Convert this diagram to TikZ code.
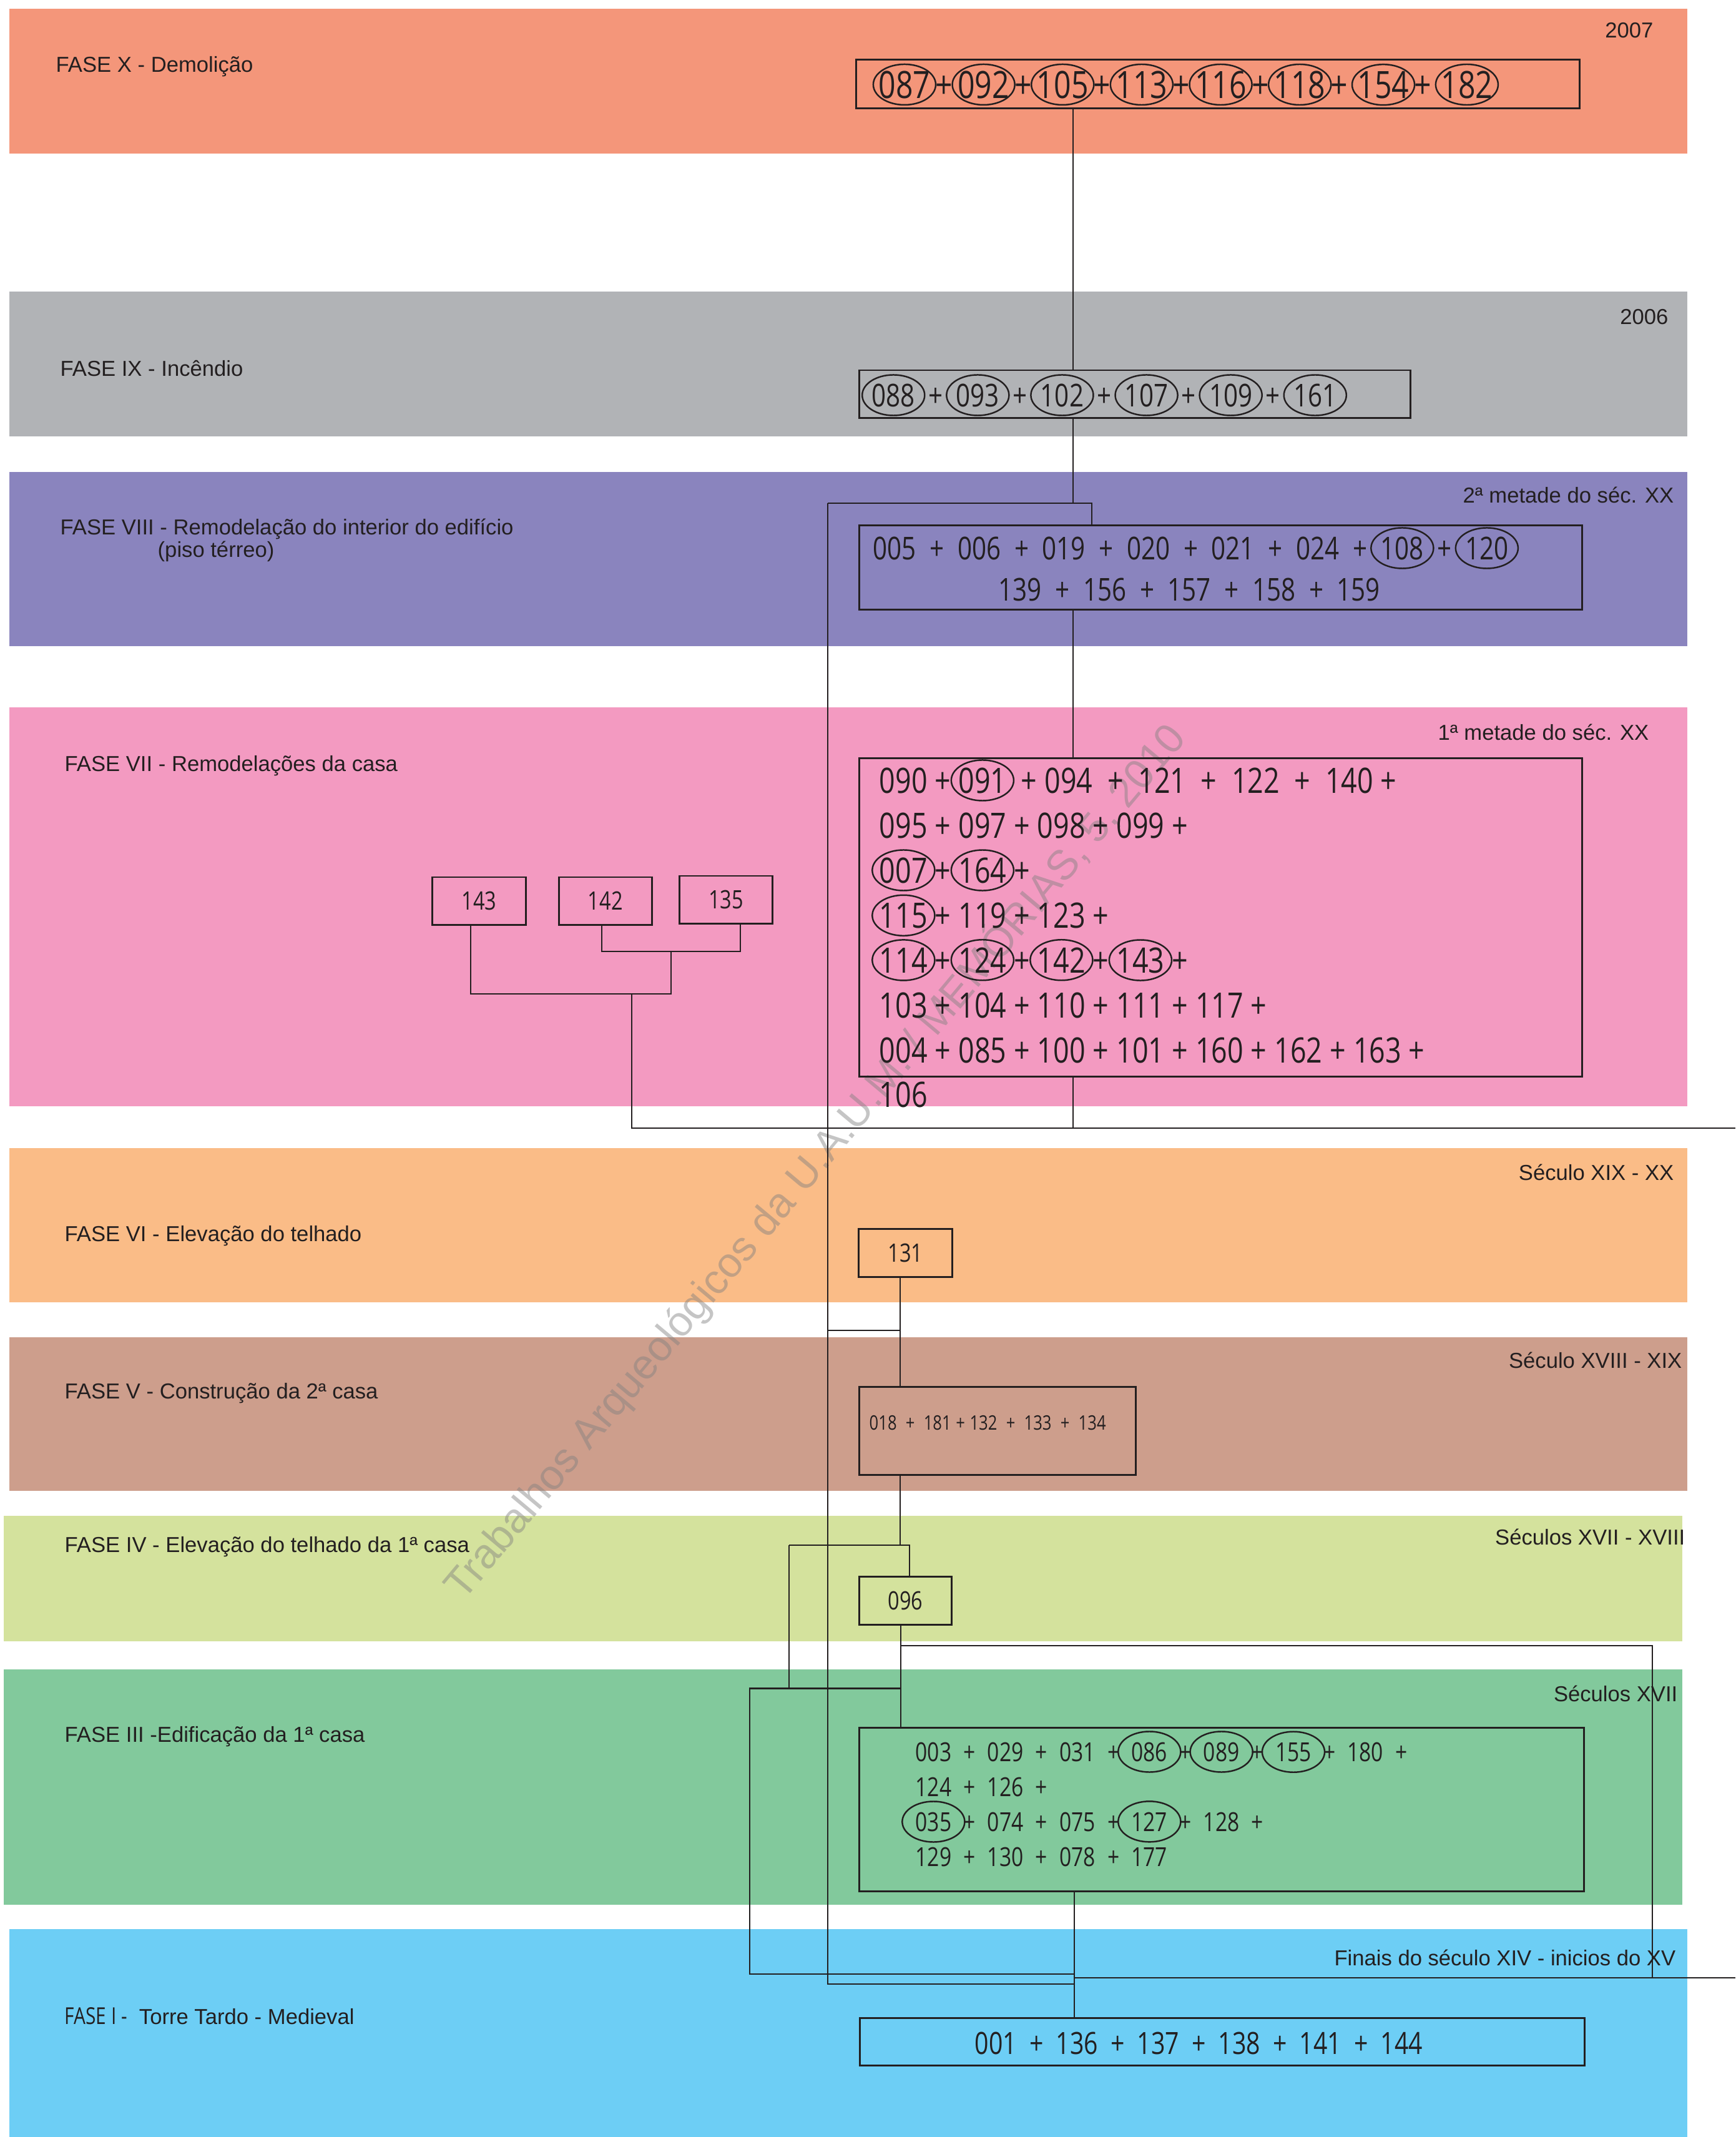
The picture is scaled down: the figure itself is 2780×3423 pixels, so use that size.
\documentclass[tikz,border=0pt]{standalone}
\usepackage{fontspec}
\setmainfont{Liberation Sans}
\newfontfamily\numf[FakeStretch=0.8]{Open Sans}
\usetikzlibrary{calc}
\definecolor{cX}{RGB}{244,150,122}
\definecolor{cIX}{RGB}{177,179,182}
\definecolor{cVIII}{RGB}{138,132,190}
\definecolor{cVII}{RGB}{243,154,193}
\definecolor{cVI}{RGB}{250,188,135}
\definecolor{cV}{RGB}{205,158,140}
\definecolor{cIV}{RGB}{212,226,157}
\definecolor{cIII}{RGB}{130,201,156}
\definecolor{cI}{RGB}{109,206,245}
\definecolor{ink}{RGB}{35,31,32}
\newcommand\plB{\ +\ \mbox{}}
\newcommand\plL{\ +}
\newcommand\plR{+\ \mbox{}}
\newcommand\plRx{+\kern0.12em}
\newcommand\numrow[4]{%
  \node[inner sep=0pt, anchor=base west] (#1-0) at (#2) {};
  \foreach \t/\c [count=\i, remember=\i as \j (initially 0)] in {#4} {%
    \node[#3, anchor=base west] (#1-\i) at (#1-\j.base east) {\t};
    \ifnum\c=1 \draw[circ] (#1-\i.center) ellipse [x radius=0.5cm, y radius=0.325cm];\fi
  }%
}
\tikzset{
  box/.style={draw=ink, line width=0.85pt, inner sep=0pt, rectangle},
  sbox/.style={box, text=ink, font=\numf\fontsize{11.55}{13}\selectfont},
  ln/.style={draw=ink, line width=0.7pt},
  circ/.style={draw=ink, line width=0.7pt},
  lbl/.style={inner sep=0pt, text=ink, font=\fontsize{9.85}{11}\selectfont},
  wm/.style={inner sep=0pt, text=black!50, text opacity=0.45, font=\fontsize{19.06}{22}\selectfont},
  tkX/.style={inner ysep=0pt, inner xsep=0.034cm, text=ink, font=\numf\fontsize{17.13}{20}\selectfont},
  tkIX/.style={inner ysep=0pt, inner xsep=0.100cm, text=ink, font=\numf\fontsize{14.34}{17}\selectfont},
  tkVIII/.style={inner ysep=0pt, inner xsep=0.101cm, text=ink, font=\numf\fontsize{14.34}{17}\selectfont},
  tkVII/.style={inner ysep=0pt, inner xsep=0.053cm, text=ink, font=\numf\fontsize{15.93}{18}\selectfont},
  tkV/.style={inner ysep=0pt, inner xsep=0.031cm, text=ink, font=\numf\fontsize{9.1}{11}\selectfont},
  tkIII/.style={inner ysep=0pt, inner xsep=0.089cm, text=ink, font=\numf\fontsize{11.95}{14}\selectfont},
  tkI/.style={inner ysep=0pt, inner xsep=0.0935cm, text=ink, font=\numf\fontsize{13.94}{16}\selectfont},
}
\begin{document}
\begin{tikzpicture}[x=0.01cm, y=-0.01cm]
\useasboundingbox (0,0) rectangle (2780,3423);
\fill[white] (0,0) rectangle (2780,3423);
% bands
\fill[cX] (15,14) rectangle (2703,246);
\fill[cIX] (15,467) rectangle (2703,699);
\fill[cVIII] (15,756) rectangle (2703,1035);
\fill[cVII] (15,1133) rectangle (2703,1772);
\fill[cVI] (15,1839) rectangle (2703,2086);
\fill[cV] (15,2142) rectangle (2703,2388);
\fill[cIV] (6,2428) rectangle (2695,2629);
\fill[cIII] (6,2674) rectangle (2695,3051);
\fill[cI] (15,3090) rectangle (2703,3423);
% watermark
\node[wm, rotate=50, anchor=base west] (wmark) at (742,2566) {Trabalhos Arqueológicos da U.A.U.M. / MEMÓRIAS, 5, 2010};
% phase labels
\node[lbl, anchor=base west] (lX) at (89,115) {FASE X - Demolição};
\node[lbl, anchor=base west] (lIX) at (96,602) {FASE IX - Incêndio};
\node[lbl, anchor=base west] (lVIII) at (96,856) {FASE VIII - Remodelação do interior do edifício};
\node[lbl, anchor=base west] (lVIIIb) at (252,892) {(piso térreo)};
\node[lbl, anchor=base west] (lVII) at (103,1235) {FASE VII - Remodelações da casa};
\node[lbl, anchor=base west] (lVI) at (103,1988) {FASE VI - Elevação do telhado};
\node[lbl, anchor=base west] (lV) at (103,2240) {FASE V - Construção da 2ª casa};
\node[lbl, anchor=base west] (lIV) at (103,2486) {FASE IV - Elevação do telhado da 1ª casa};
\node[lbl, anchor=base west] (lIII) at (103,2790) {FASE III -Edificação da 1ª casa};
\node[lbl, anchor=base west] (lI) at (103,3242) {{\numf\fontsize{10.6}{12}\selectfont FASE I -}\ \ Torre Tardo - Medieval};
% dates
\node[lbl, anchor=base east] (r2007) at (2649,60) {2007};
\node[lbl, anchor=base east] (r2006) at (2673,519) {2006};
\node[lbl, anchor=base east] (rVIII) at (2682,805) {2ª metade do séc. XX};
\node[lbl, anchor=base east] (rVII) at (2642,1185) {1ª metade do séc. XX};
\node[lbl, anchor=base east] (rVI) at (2682,1890) {Século XIX - XX};
\node[lbl, anchor=base east] (rV) at (2695,2191) {Século XVIII - XIX};
\node[lbl, anchor=base east] (rIV) at (2700,2474) {Séculos XVII - XVIII};
\node[lbl, anchor=base east] (rIII) at (2688,2725) {Séculos XVII};
\node[lbl, anchor=base east] (rI) at (2685,3148) {Finais do século XIV - inicios do XV};
% boxes
\node[box, minimum width=11.58cm, minimum height=0.77cm] (bX) at (1951,134.5) {};
\node[box, minimum width=8.82cm, minimum height=0.76cm] (bIX) at (1818,631) {};
\node[box, minimum width=11.57cm, minimum height=1.34cm] (bVIII) at (1955.5,909) {};
\node[box, minimum width=11.57cm, minimum height=5.09cm] (bVII) at (1955.5,1469.5) {};
\node[sbox, minimum width=1.49cm, minimum height=0.76cm] (b143) at (767.5,1443) {143};
\node[sbox, minimum width=1.485cm, minimum height=0.76cm] (b142) at (969.75,1443) {142};
\node[sbox, minimum width=1.48cm, minimum height=0.76cm] (b135) at (1163,1441) {135};
\node[sbox, minimum width=1.49cm, minimum height=0.77cm] (b131) at (1450.5,2006.5) {131};
\node[box, minimum width=4.42cm, minimum height=1.40cm] (bV) at (1598,2292) {};
\node[sbox, minimum width=1.47cm, minimum height=0.77cm] (b096) at (1450.5,2563.5) {096};
\node[box, minimum width=11.60cm, minimum height=2.61cm] (bIII) at (1957,2898.5) {};
\node[box, minimum width=11.60cm, minimum height=0.76cm] (bI) at (1958,3270) {};
% box contents
\numrow{nX}{1398.6,157}{tkX}{087/1,+/0,092/1,+/0,105/1,+/0,113/1,+/0,116/1,+/0,118/1,\plRx/0,154/1,\plRx/0,182/1}
\numrow{nIX}{1381,651}{tkIX}{088/1,+/0,093/1,+/0,102/1,+/0,107/1,+/0,109/1,+/0,161/1}
\numrow{nVIIIa}{1383,896}{tkVIII}{005/0,+/0,006/0,+/0,019/0,+/0,020/0,+/0,021/0,+/0,024/0,+/0,108/1,+/0,120/1}
\numrow{nVIIIb}{1584,962}{tkVIII}{139/0,+/0,156/0,+/0,157/0,+/0,158/0,+/0,159/0}
\numrow{nVIIa}{1398,1270}{tkVII}{090/0,+/0,091/1,\plL/0,094/0,\plB/0,121/0,\plB/0,122/0,\plB/0,140/0,+/0}
\numrow{nVIIb}{1398,1342}{tkVII}{095/0,+/0,097/0,+/0,098/0,+/0,099/0,+/0}
\numrow{nVIIc}{1398,1414}{tkVII}{007/1,+/0,164/1,+/0}
\numrow{nVIId}{1398,1486}{tkVII}{115/1,+/0,119/0,+/0,123/0,+/0}
\numrow{nVIIe}{1398,1558}{tkVII}{114/1,+/0,124/1,+/0,142/1,+/0,143/1,+/0}
\numrow{nVIIf}{1398,1630}{tkVII}{103/0,+/0,104/0,+/0,110/0,+/0,111/0,+/0,117/0,+/0}
\numrow{nVIIg}{1398,1702}{tkVII}{004/0,+/0,085/0,+/0,100/0,+/0,101/0,+/0,160/0,+/0,162/0,+/0,163/0,+/0}
\numrow{nVIIh}{1398,1773}{tkVII}{106/0}
\numrow{nV}{1384,2290}{tkV}{018/0,\plB/0,181/0,+/0,132/0,\plB/0,133/0,\plB/0,134/0}
\numrow{nIIIa}{1452,2821}{tkIII}{003/0,+/0,029/0,+/0,031/0,+/0,086/1,+/0,089/1,+/0,155/1,+/0,180/0,+/0}
\numrow{nIIIb}{1452,2877}{tkIII}{124/0,+/0,126/0,+/0}
\numrow{nIIIc}{1452,2933}{tkIII}{035/1,+/0,074/0,+/0,075/0,+/0,127/1,+/0,128/0,+/0}
\numrow{nIIId}{1452,2989}{tkIII}{129/0,+/0,130/0,+/0,078/0,+/0,177/0}
\numrow{nI}{1547,3290}{tkI}{001/0,+/0,136/0,+/0,137/0,+/0,138/0,+/0,141/0,+/0,144/0}
% junction coordinates
\coordinate (cA) at (1719,806);
\coordinate (cL) at (1326,806);
\coordinate (cR) at (1749,806);
\coordinate (cB) at (1719,1807);
\coordinate (cF) at (1012,1807);
\coordinate (cE) at (2780,1807);
\coordinate (x964) at (964,1524);
\coordinate (x1186) at (1186,1524);
\coordinate (x1075) at (1075,1524);
\coordinate (y754) at (754,1592);
\coordinate (y1075) at (1075,1592);
\coordinate (y1012) at (1012,1592);
\coordinate (cL2) at (1326,3178);
\coordinate (cI) at (1721,3178);
\coordinate (cG) at (1326,2131);
\coordinate (cH) at (1442,2131);
\coordinate (cJ) at (1442,2475);
\coordinate (cJl) at (1264,2475);
\coordinate (cJr) at (1457,2475);
\coordinate (cK) at (1264,2704.5);
\coordinate (cM) at (1443,2636);
\coordinate (cN) at (2647,2636);
\coordinate (cP) at (2647,3168);
\coordinate (cQ) at (1201,2704.5);
\coordinate (cQ2) at (1443,2704.5);
\coordinate (cR2) at (1201,3162);
\coordinate (cS) at (1721,3162);
\coordinate (cT) at (1721,3168);
\coordinate (cU) at (2780,3168);
% connectors
\draw[ln] (bX.south -| cA) -- (bIX.north -| cA);
\draw[ln] (bIX.south -| cA) -- (cA);
\draw[ln] (cL) -- (cR) -- (bVIII.north -| cR);
\draw[ln] (bVIII.south -| cA) -- (bVII.north -| cA);
\draw[ln] (bVII.south -| cA) -- (cB);
\draw[ln] (b142.south -| x964) -- (x964) -- (x1186) -- (b135.south -| x1186);
\draw[ln] (b143.south -| y754) -- (y754) -- (y1075) -- (x1075);
\draw[ln] (y1012) -- (cF) -- (cE);
\draw[ln] (cL) -- (cL2) -- (cI);
\draw[ln] (cG) -- (cH);
\draw[ln] (b131.south -| cH) -- (bV.north -| cH);
\draw[ln] (bV.south -| cJ) -- (cJ);
\draw[ln] (cJl) -- (cJr) -- (b096.north -| cJr);
\draw[ln] (cJl) -- (cK);
\draw[ln] (b096.south -| cM) -- (bIII.north -| cM);
\draw[ln] (cM) -- (cN) -- (cP);
\draw[ln] (cQ2) -- (cQ) -- (cR2) -- (cS);
\draw[ln] (bIII.south -| cT) -- (bI.north -| cT);
\draw[ln] (cT) -- (cU);
\end{tikzpicture}
\end{document}
